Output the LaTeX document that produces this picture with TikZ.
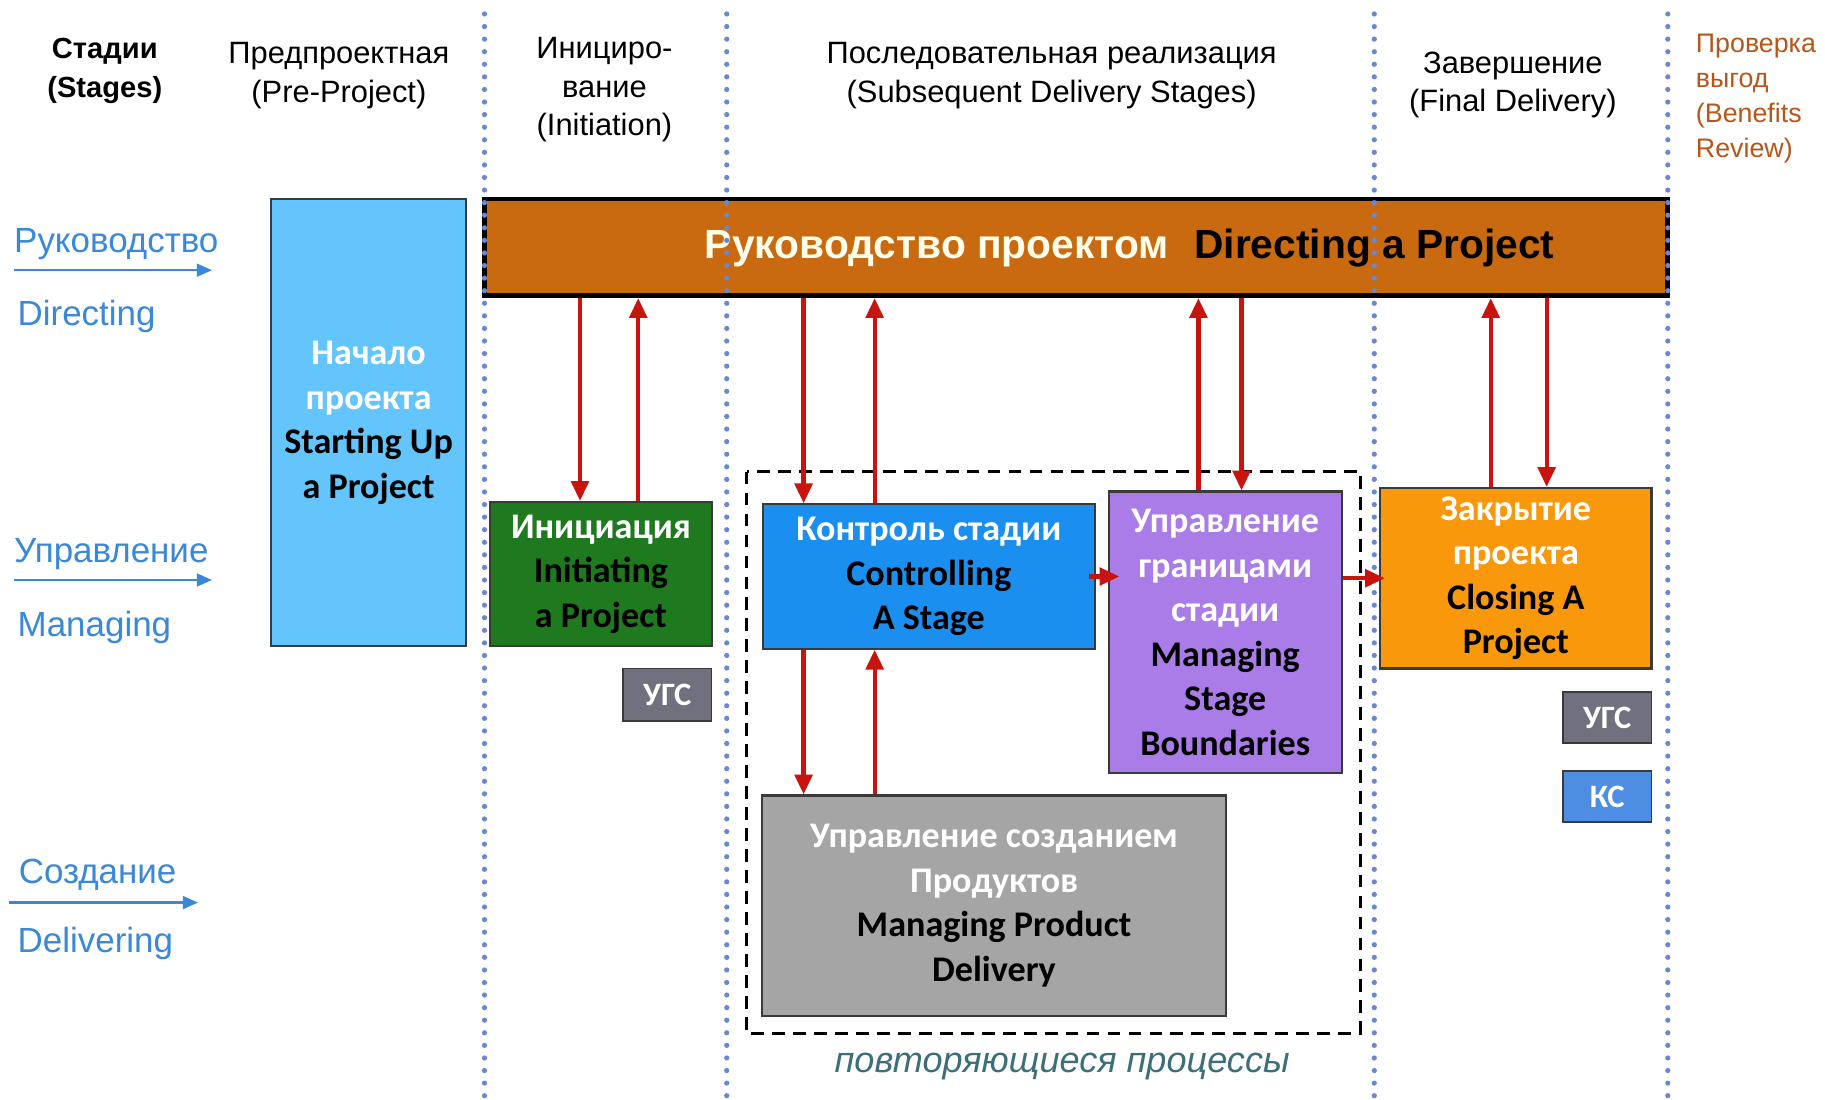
\documentclass[tikz,border=0pt]{standalone}
\usepackage{fontspec}
\setmainfont{Liberation Sans}
\newfontfamily\calfont{Carlito}
\usetikzlibrary{arrows.meta,calc}
\definecolor{boxline}{HTML}{3A3A3A}
\definecolor{startblue}{HTML}{63C5FB}
\definecolor{dirorange}{HTML}{C96A10}
\definecolor{initgreen}{HTML}{1F7A1F}
\definecolor{ctrlblue}{HTML}{1A8FEF}
\definecolor{msbpurple}{HTML}{A97CE8}
\definecolor{mpdgray}{HTML}{A5A5A5}
\definecolor{closeorange}{HTML}{FA980C}
\definecolor{ugsgray}{HTML}{70707E}
\definecolor{ksblue}{HTML}{4D8EE3}
\definecolor{labelblue}{HTML}{3A88D8}
\definecolor{dotblue}{HTML}{6A88D0}
\definecolor{benefit}{HTML}{B8561A}
\definecolor{italteal}{HTML}{3D6F78}
\definecolor{redc}{HTML}{C8140C}
\newcommand\wt[1]{\textcolor{white}{#1}}
\begin{document}
\begin{tikzpicture}[x=1pt,y=-1pt,
  box/.style={draw=boxline, line width=1.8pt, inner sep=0pt, align=center, text=black,
    font=\calfont\bfseries\fontsize{31}{38.3}\selectfont},
  tag/.style={draw=boxline, line width=1.5pt, inner sep=0pt, align=center, text=white,
    minimum width=76pt, minimum height=45pt, font=\calfont\bfseries\fontsize{28}{32}\selectfont},
  ra/.style={draw=redc, line width=3.7pt, -{Triangle[width=15pt,length=17pt]}},
  dotline/.style={draw=dotblue, line width=4.5pt, line cap=round, dash pattern=on 0pt off 10.8pt},
  laneline/.style={draw=labelblue, line width=2pt, -{Triangle[width=11pt,length=13pt]}},
  lanetext/.style={text=labelblue, anchor=west, inner sep=0pt, font=\fontsize{30}{36}\selectfont},
  head/.style={align=center, inner sep=0pt, font=\fontsize{26.5}{33}\selectfont}
]
\useasboundingbox (0,0) rectangle (1567,944);
\fill[white] (0,0) rectangle (1567,944);

% header texts
\node[head, font=\bfseries\fontsize{25}{33}\selectfont] (hst) at (90,61) {Стадии\\(Stages)};
\node[head] (hpre) at (291,65) {Предпроектная\\(Pre-Project)};
\node[head] (hini) at (519,77) {Инициро-\\вание\\(Initiation)};
\node[head] (hsub) at (903,65) {Последовательная реализация\\(Subsequent Delivery Stages)};
\node[head] (hfin) at (1299,73) {Завершение\\(Final Delivery)};
\node[head, align=left, anchor=north west, text=benefit, font=\fontsize{23}{30}\selectfont] (hben) at (1456,29) {Проверка\\выгод\\(Benefits\\Review)};

% lane labels
\node[lanetext] (l1a) at (12,210) {Руководство};
\node[lanetext] (l1b) at (15,272) {Directing};
\coordinate (a1s) at (12,232); \coordinate (a1e) at (182,232);
\draw[laneline] (a1s) -- (a1e);
\node[lanetext] (l2a) at (12,476) {Управление};
\node[lanetext] (l2b) at (15,539) {Managing};
\coordinate (a2s) at (12,498); \coordinate (a2e) at (182,498);
\draw[laneline] (a2s) -- (a2e);
\node[lanetext] (l3a) at (16,751) {Создание};
\node[lanetext] (l3b) at (15,810) {Delivering};
\coordinate (a3s) at (8,775); \coordinate (a3e) at (170,775);
\draw[laneline] (a3s) -- (a3e);

% boxes
\node[box, fill=startblue, minimum width=167pt, minimum height=384pt] (start) at (316.5,363)
  {\wt{Начало}\\\wt{проекта}\\Starting Up\\a Project};
\node[box, fill=dirorange, draw=black, line width=4pt, minimum width=1016pt, minimum height=83pt] (dir) at (924,212.5) {};
\node[inner sep=0pt, font=\bfseries\fontsize{35}{40}\selectfont] (dirlabel) at (970,213)
  {\textcolor{white!92!yellow}{Руководство проектом}\hspace{22pt}Directing a Project};
\node[box, fill=initgreen, minimum width=190pt, minimum height=124pt] (init) at (516,493)
  {\wt{Инициация}\\Initiating\\a Project};
\node[tag, fill=ugsgray] (ugs1) at (573,596.5) {УГС};
\draw[black, line width=2.5pt, dash pattern=on 11pt off 7pt] (641,405) rectangle (1168,887);
\node[box, fill=ctrlblue, minimum width=285pt, minimum height=124pt] (ctrl) at (797.5,495)
  {\wt{Контроль стадии}\\Controlling\\A Stage};
\node[box, fill=msbpurple, minimum width=200pt, minimum height=242pt] (msb) at (1052,543)
  {\wt{Управление}\\\wt{границами}\\\wt{стадии}\\Managing\\Stage\\Boundaries};
\node[box, fill=mpdgray, minimum width=399pt, minimum height=189pt] (mpd) at (853.5,777.5)
  {\wt{Управление созданием}\\\wt{Продуктов}\\Managing Product\\Delivery};
\node[box, fill=closeorange, minimum width=233pt, minimum height=155pt] (close) at (1301.5,496.5)
  {\wt{Закрытие}\\\wt{проекта}\\Closing A\\Project};
\node[tag, fill=ugsgray, minimum height=44pt] (ugs2) at (1380,616) {УГС};
\node[tag, fill=ksblue, minimum height=44pt] (ks) at (1380,684) {КС};

\node[text=italteal, inner sep=0pt, font=\itshape\fontsize{31}{36}\selectfont] (rep) at (912,916) {повторяющиеся процессы};

% dotted stage separators
\foreach \xx in {416,624,1180,1432} {
  \draw[dotline] (\xx,12) -- (\xx,944);
}

% red arrows
\draw[ra] ([xshift=-18pt]init.north |- dir.south) -- ([xshift=-18pt]init.north);
\draw[ra] ([xshift=32pt]init.north) -- ([xshift=32pt]init.north |- dir.south);
\draw[ra] ([xshift=-107.5pt]ctrl.north |- dir.south) -- ([xshift=-107.5pt]ctrl.north);
\draw[ra] ([xshift=-46.5pt]ctrl.north) -- ([xshift=-46.5pt]ctrl.north |- dir.south);
\draw[ra] ([xshift=-23pt]msb.north) -- ([xshift=-23pt]msb.north |- dir.south);
\draw[ra] ([xshift=14pt]msb.north |- dir.south) -- ([xshift=14pt]msb.north);
\draw[ra] ([xshift=-21.5pt]close.north) -- ([xshift=-21.5pt]close.north |- dir.south);
\draw[ra] ([xshift=26.5pt]close.north |- dir.south) -- ([xshift=26.5pt]close.north);
\draw[ra] ([xshift=-107.5pt]ctrl.south) -- ([xshift=-107.5pt]ctrl.south |- mpd.north);
\draw[ra] ([xshift=-46.5pt]ctrl.south |- mpd.north) -- ([xshift=-46.5pt]ctrl.south);
\draw[ra] ([xshift=-6pt]ctrl.east) -- ([xshift=10pt]ctrl.east -| msb.west);
\draw[ra] (msb.east |- close.west) -- ([xshift=5pt]close.west);
\end{tikzpicture}
\end{document}
